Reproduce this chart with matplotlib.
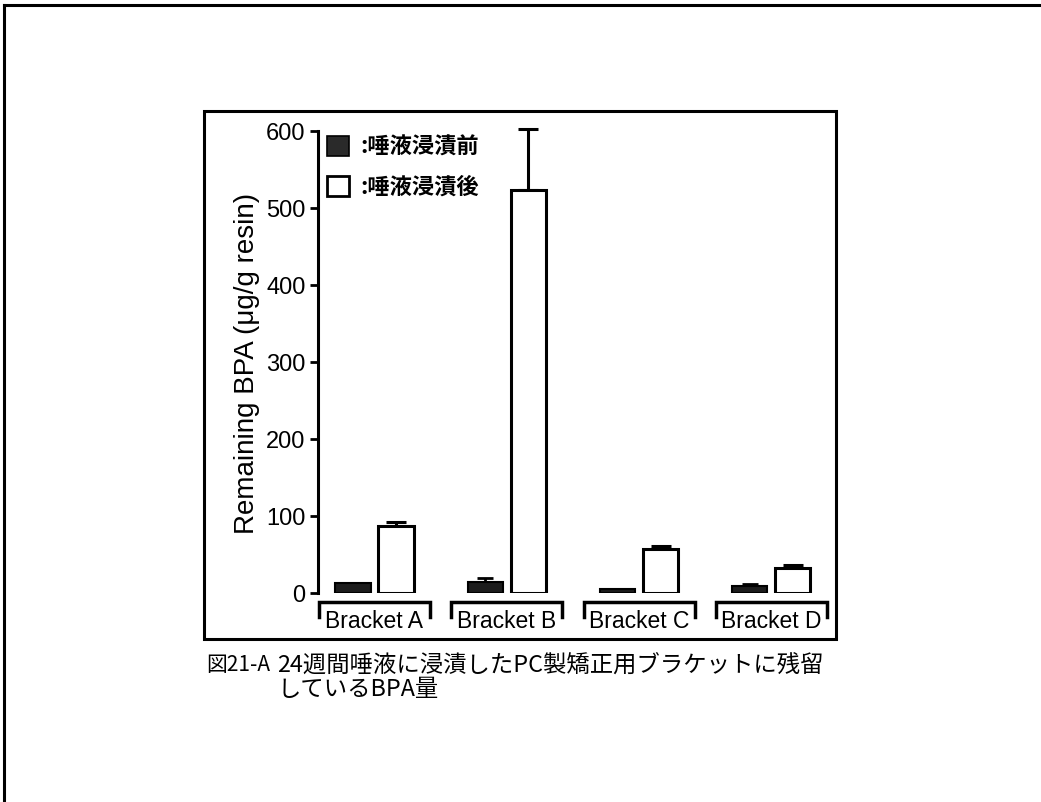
import numpy as np
import matplotlib.pyplot as plt
from matplotlib.patches import Rectangle
from matplotlib.lines import Line2D

# Remaining BPA (ug/g resin)
brackets = ["Bracket A", "Bracket B", "Bracket C", "Bracket D"]
before = [13, 14, 5, 9]          # 唾液浸漬前
before_err = [0, 5, 0, 3]
after = [87, 523, 57, 33]        # 唾液浸漬後
after_err = [5, 80, 4, 4]
yticks = [0, 100, 200, 300, 400, 500, 600]

latin = ["Liberation Sans", "Noto Sans CJK JP"]
jp = ["Noto Sans CJK JP", "DejaVu Sans"]

W, H = 1041, 803
fig = plt.figure(figsize=(W / 100, H / 100), dpi=100)

def px(x0, y0, x1, y1):
    # pixel box (top-left origin) -> figure fraction rect
    return [x0 / W, 1 - y1 / H, (x1 - x0) / W, (y1 - y0) / H]

# outer frame (left and top edges visible) and inner frame
fig.add_artist(Line2D([4 / W, 4 / W], [0, 1 - 6 / H], color="black", lw=2.2))
fig.add_artist(Line2D([4 / W, 1], [1 - 6 / H, 1 - 6 / H], color="black", lw=2.2))
fig.add_artist(Rectangle((204 / W, 1 - 640 / H), 632 / W, 528 / H, fill=False,
                         edgecolor="black", lw=2.2, transform=fig.transFigure))

ax = fig.add_axes(px(318, 132, 836, 594))
x = np.arange(len(brackets))
bw = 0.265
off = 0.1625

ax.bar(x - off, before, bw, color="#1c1c1c", edgecolor="black", lw=1.5, zorder=2)
eb1 = ax.errorbar(x - off, before, yerr=[np.zeros(4), before_err], fmt="none",
                  ecolor="black", elinewidth=2, capsize=6, capthick=2, zorder=1)
ax.bar(x + off, after, bw, color="white", edgecolor="black", lw=2.2, zorder=2)
eb2 = ax.errorbar(x + off, after, yerr=[np.zeros(4), after_err], fmt="none",
                  ecolor="black", elinewidth=2.2, capsize=7, capthick=2.2, zorder=1)
for eb in (eb1, eb2):
    for art in eb.lines[1] + eb.lines[2]:
        art.set_clip_on(False)

ax.set_xlim(-0.427, 3.488)
ax.set_ylim(0, 600)
ax.set_yticks(yticks)
ax.set_yticklabels([str(v) for v in yticks], family=latin, fontsize=17)
ax.tick_params(axis="y", direction="out", length=6, width=2, pad=3)
ax.set_xticks([])
for s in ["top", "right", "bottom"]:
    ax.spines[s].set_visible(False)
ax.spines["left"].set_linewidth(2.2)
ax.set_ylabel("Remaining BPA (μg/g resin)", family=latin, fontsize=20, labelpad=4)
ax.patch.set_alpha(0)

# group brackets under the x axis
tr = ax.get_xaxis_transform()
for i, name in enumerate(brackets):
    xl, xr = i - 0.42, i + 0.42
    ax.plot([xl, xl, xr, xr], [-0.052, -0.019, -0.019, -0.052], color="black",
            lw=2.5, transform=tr, clip_on=False, solid_joinstyle="miter")
    ax.text(i, -0.06, name, transform=tr, ha="center", va="center",
            family=latin, fontsize=16.5)

# legend drawn as swatches + text
ax.add_patch(Rectangle((327 / W, 1 - 157 / H), 22 / W, 20 / H, facecolor="#2a2a2a",
                       edgecolor="black", lw=1.2, transform=fig.transFigure, clip_on=False))
ax.add_patch(Rectangle((327 / W, 1 - 197 / H), 22 / W, 20 / H, facecolor="white",
                       edgecolor="black", lw=2, transform=fig.transFigure, clip_on=False))
fig.text(360 / W, 1 - 147 / H, ":唾液浸漬前", family=jp, fontsize=16,
         fontweight="bold", va="center")
fig.text(360 / W, 1 - 187 / H, ":唾液浸漬後", family=jp, fontsize=16,
         fontweight="bold", va="center")

# caption
fig.text(206 / W, 1 - 665 / H, "図21-A", family=jp, fontsize=15, va="center")
fig.text(277 / W, 1 - 665 / H, "24週間唾液に浸漬したPC製矯正用ブラケットに残留",
         family=jp, fontsize=16.8, va="center")
fig.text(277 / W, 1 - 690 / H, "しているBPA量", family=jp, fontsize=16.8, va="center")

fig.savefig("out.png", dpi=100, facecolor="white")
